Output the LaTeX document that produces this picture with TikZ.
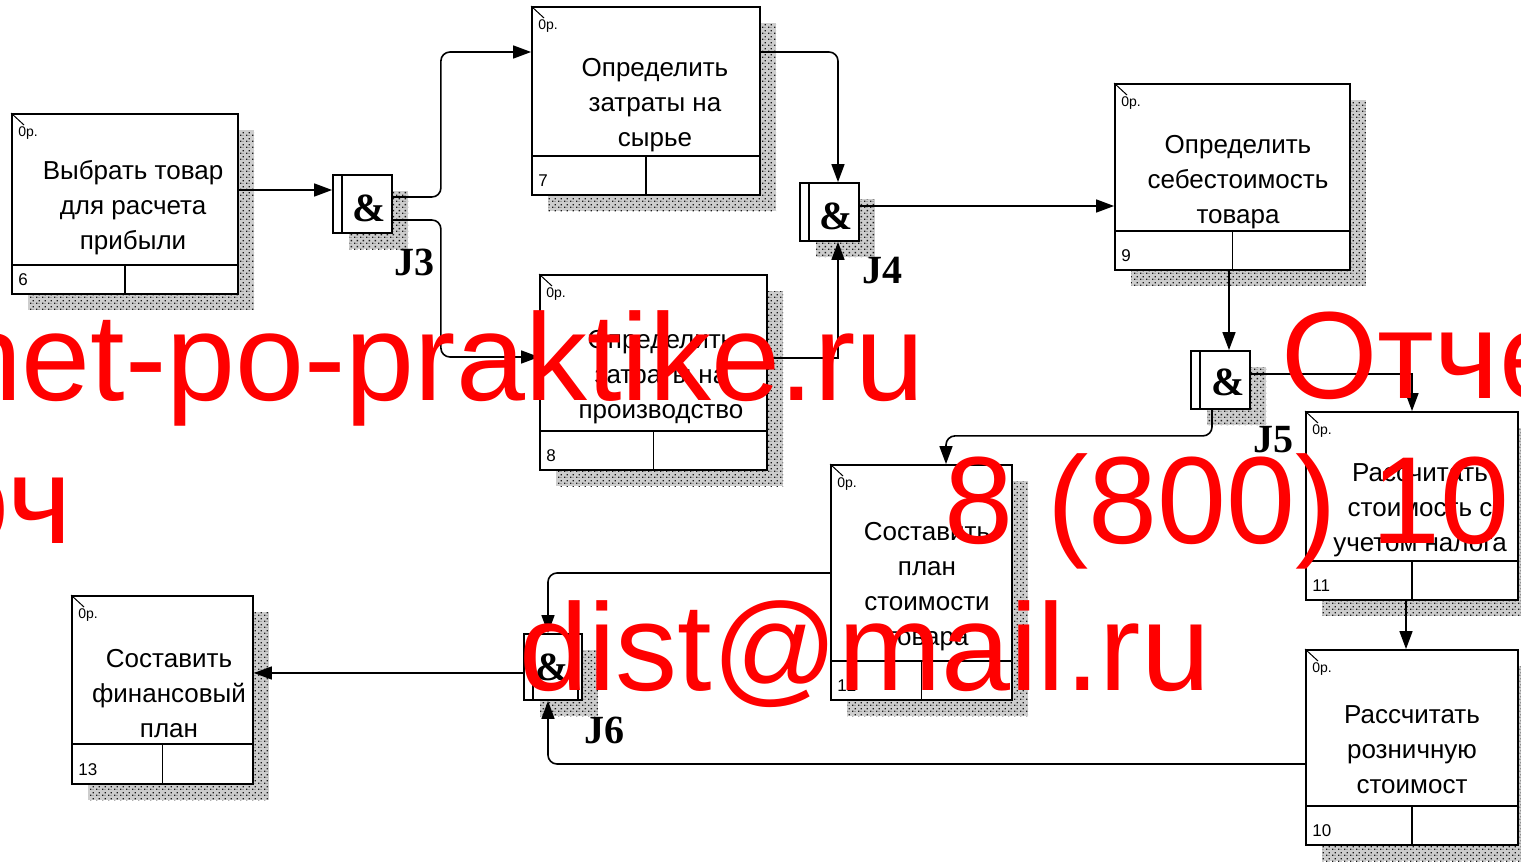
\documentclass[tikz,border=0pt]{standalone}
\usepackage{fontspec}
\setmainfont{Liberation Sans}
\newfontfamily\jfont{Liberation Serif}
\usepackage{tikz}
\usetikzlibrary{arrows.meta,positioning,calc,shadows,patterns}
\definecolor{wmred}{RGB}{255,0,0}
\definecolor{shadegray}{RGB}{205,205,205}
\pgfdeclarepatternformonly{idefhatch}{\pgfqpoint{0pt}{0pt}}{\pgfqpoint{6pt}{6pt}}{\pgfqpoint{6pt}{6pt}}{
  \pgfpathrectangle{\pgfqpoint{0pt}{0pt}}{\pgfqpoint{1.6pt}{1.6pt}}
  \pgfpathrectangle{\pgfqpoint{3pt}{3pt}}{\pgfqpoint{1.6pt}{1.6pt}}
  \pgfpathrectangle{\pgfqpoint{3pt}{0pt}}{\pgfqpoint{0.8pt}{0.8pt}}
  \pgfusepath{fill}
}

\begin{document}
\begin{tikzpicture}[
  x=1pt, y=-1pt,
  uow/.style={draw, fill=white, line width=1.8pt, inner sep=0pt,
    general shadow={shadow xshift=16pt, shadow yshift=-16pt, fill=shadegray,
      postaction={pattern=idefhatch, pattern color=black!90}}},
  jn/.style={uow, minimum width=59pt, minimum height=58pt},
  txt/.style={align=center, inner sep=0pt, font=\fontsize{26}{35}\selectfont},
  cost/.style={anchor=base west, inner sep=0pt, font=\fontsize{14}{14}\selectfont},
  num/.style={anchor=base west, inner sep=0pt, font=\fontsize{17}{17}\selectfont},
  amp/.style={anchor=base, inner sep=0pt, font=\jfont\bfseries\fontsize{40}{40}\selectfont},
  jl/.style={anchor=base west, inner sep=0pt, font=\jfont\bfseries\fontsize{40}{40}\selectfont},
  conn/.style={line width=1.6pt, -{Triangle[length=18pt,width=13pt]}, rounded corners=9pt},
  wm/.style={text=wmred, inner sep=0pt, font=\fontsize{124}{124}\selectfont}
]
  \useasboundingbox (0,0) rectangle (1521,862);
  \clip (0,0) rectangle (1521,862);

  \node[uow, minimum width=226pt, minimum height=180pt] (b6) at (125,204) {};
  \node[uow, minimum width=228pt, minimum height=188pt] (b7) at (646,101) {};
  \node[uow, minimum width=227pt, minimum height=195pt] (b8) at (653.5,372.5) {};
  \node[uow, minimum width=235pt, minimum height=186pt] (b9) at (1232.5,177) {};
  \node[uow, minimum width=212pt, minimum height=188pt] (b11) at (1412,506) {};
  \node[uow, minimum width=212pt, minimum height=195pt] (b10) at (1412,747.5) {};
  \node[uow, minimum width=181pt, minimum height=235pt] (b12) at (921.5,582.5) {};
  \node[uow, minimum width=181pt, minimum height=188pt] (b13) at (162.5,690) {};

  \foreach \bx/\dv in {b6/30,b7/40,b8/40,b9/40,b11/40,b10/40,b12/40,b13/41} {
    \draw[line width=1.8pt] ([yshift=\dv pt]\bx.south west) -- ([yshift=\dv pt]\bx.south east);
    \draw[line width=1.8pt] ([yshift=\dv pt]\bx.south) -- (\bx.south);
    \draw[line width=1pt] (\bx.north west) -- ++(13,12);
    \node[cost] at ([xshift=7pt,yshift=-23pt]\bx.north west) {0р.};
  }
  \foreach \bx/\nm in {b6/6,b7/7,b8/8,b9/9,b11/11,b10/10,b12/12,b13/13}
    \node[num] at ([xshift=7pt,yshift=9pt]\bx.south west) {\nm};

  \node[txt] (t6) at (133,208) {Выбрать товар\\для расчета\\прибыли};
  \node[txt] (t7) at (655,105) {Определить\\затраты на\\сырье};
  \node[txt] (t8) at (661,377) {Определить\\затраты на\\производство};
  \node[txt] (t9) at (1238,182) {Определить\\себестоимость\\товара};
  \node[txt] (t11) at (1420,510) {Рассчитать\\стоимость с\\учетом налога};
  \node[txt] (t10) at (1412,750) {Рассчитать\\розничную\\стоимост};
  \node[txt] (t12) at (927,587) {Составить\\план\\стоимости\\товара};
  \node[txt] (t13) at (169,694) {Составить\\финансовый\\план};

  \node[jn] (j3) at (362.5,204) {};
  \node[jn] (j4) at (829.5,212) {};
  \node[jn] (j5) at (1220.5,380) {};
  \node[jn, minimum width=58pt, minimum height=66pt] (j6) at (553,667) {};
  \foreach \jx in {j3,j4,j5,j6}
    \draw[line width=1.8pt] ([xshift=10pt]\jx.north west) -- ([xshift=10pt]\jx.south west);
  \draw[line width=1.8pt] ([xshift=-5pt]j6.north east) -- ([xshift=-5pt]j6.south east);

  \node[amp] at (369,221) {\&};
  \node[amp] at (836,229) {\&};
  \node[amp] at (1228,395) {\&};
  \node[amp] at (552,680) {\&};
  \node[jl] (l3) at (394,275) {J3};
  \node[jl] (l4) at (862,283) {J4};
  \node[jl] (l5) at (1253,452) {J5};
  \node[jl] (l6) at (584,743) {J6};

  \coordinate (j4in) at ([xshift=8.5pt]j4.north);
  \coordinate (j4up) at ([xshift=8.5pt]j4.south);
  \coordinate (j5in) at ([xshift=8.5pt]j5.north);
  \coordinate (b12in) at ([xshift=24.5pt]b12.north);
  \coordinate (j6in) at ([xshift=-5pt]j6.north);
  \coordinate (j6up) at ([xshift=-5pt]j6.south);

  \draw[conn] ([yshift=14pt]b6.east) -- ([yshift=14pt]j3.west);
  \draw[conn] ([yshift=7pt]j3.east) -- ++(48,0) |- ([yshift=49pt]b7.west);
  \draw[conn] ([yshift=-16pt]j3.east) -- ++(48,0) |- ([yshift=15.5pt]b8.west);
  \draw[conn] ([yshift=49pt]b7.east) -| (j4in);
  \draw[conn, rounded corners=0pt] ([yshift=14.5pt]b8.east) -| (j4up);
  \draw[conn] ([yshift=6pt]j4.east) -- ([yshift=-29pt]b9.west);
  \draw[conn] (j5in |- b9.south) -- (j5in);
  \draw[conn, rounded corners=0pt] ([yshift=6pt]j5.east) -| (b11.north);
  \draw[conn] ([xshift=-8.5pt]j5.south) -- ++(0,26) -| (b12in);
  \draw[conn] ([xshift=-6pt]b11.south) -- ([xshift=-6pt]b10.north);
  \draw[conn] ([yshift=9.5pt]b12.west) -| (j6in);
  \draw[conn] ([yshift=-16.5pt]b10.west) -| (j6up);
  \draw[conn] ([yshift=-6pt]j6.west) -- ([yshift=17pt]b13.east);

  \node[wm, anchor=base east] (w1) at (925,400) {otchet-po-praktike.ru};
  \node[wm, anchor=base west] (w2) at (1281,398) {Отчет};
  \node[wm, anchor=base east] (w3) at (72,543) {оч};
  \node[wm, anchor=base west] (w4) at (944,543) {8 (800) 10};
  \node[wm, anchor=base west] (w5) at (519,690) {dist@mail.ru};
\end{tikzpicture}
\end{document}
